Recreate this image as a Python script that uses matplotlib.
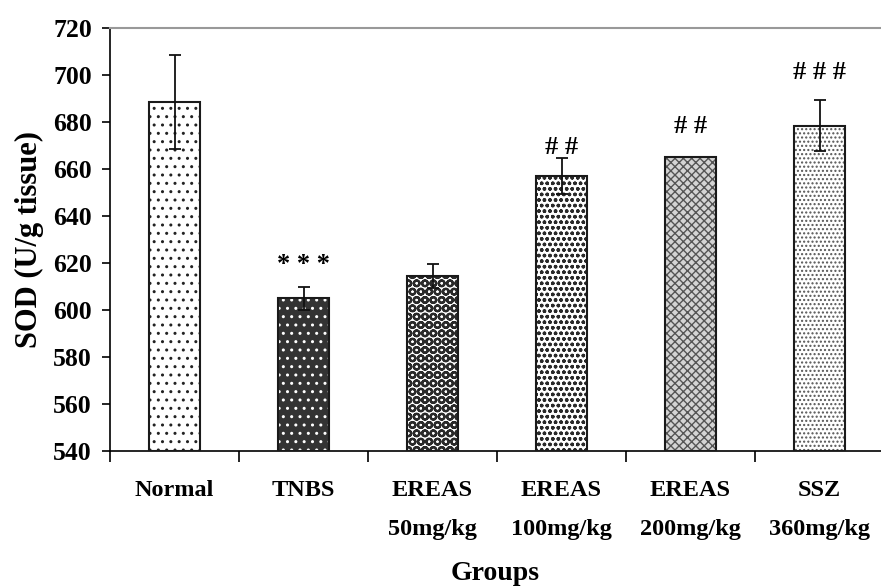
import matplotlib
matplotlib.use("Agg")
import matplotlib.pyplot as plt
import numpy as np

# ---- data ----
groups = ["Normal", "TNBS", "EREAS\n50mg/kg", "EREAS\n100mg/kg", "EREAS\n200mg/kg", "SSZ\n360mg/kg"]
sod_mean = [688.5, 605.0, 614.5, 657.0, 665.0, 678.5]
sod_err = [20.0, 5.0, 5.0, 7.5, 0.0, 11.0]
sig_marks = ["", "* * *", "", "# #", "# #", "# # #"]

# ---- style ----
plt.rcParams["font.family"] = ["Liberation Serif", "DejaVu Serif"]
plt.rcParams["font.weight"] = "bold"

faces = ["white", "#333333", "white", "white", "#d4d4d4", "white"]
hatch_colors = ["#222222", "white", "#2a2a2a", "#2a2a2a", "#555555", "#555555"]
hatches = ["..", "..", "OO", "ooo", "xxxx", "...."]
hatch_lws = [1.0, 1.0, 1.6, 1.0, 1.0, 1.0]
sig_offsets = [0, 22, 0, 11, 31, 27]  # pixels above bar/err top (centre of mark)

fig = plt.figure(figsize=(8.81, 5.88), dpi=100)
ax = fig.add_axes([110 / 881, 1 - 451 / 588, 774 / 881, 423 / 588])

x = np.arange(len(groups))
width = 0.4
heights = np.array(sod_mean) - 540
for i in range(len(groups)):
    with plt.rc_context({"hatch.linewidth": hatch_lws[i]}):
        ax.bar(x[i], heights[i], bottom=540, width=width, color=faces[i],
               edgecolor=hatch_colors[i], hatch=hatches[i], linewidth=0, zorder=2)
ax.bar(x, heights, bottom=540, width=width, fill=False,
       edgecolor="#1a1a1a", linewidth=1.5, zorder=3)

err = np.array(sod_err)
mask = err > 0
ax.errorbar(x[mask], np.array(sod_mean)[mask], yerr=err[mask], fmt="none",
            ecolor="#111111", elinewidth=1.3, capsize=4.5, capthick=1.3, zorder=4)

for i, (m, e, s) in enumerate(zip(sod_mean, sod_err, sig_marks)):
    if s:
        ax.annotate(s, xy=(i, m + e), xytext=(0, sig_offsets[i] * 72 / 100),
                    textcoords="offset points", ha="center", va="center",
                    fontsize=19, fontweight="bold", zorder=5)

ax.set_xlim(-0.5, len(groups) - 0.5)
ax.set_ylim(540, 720)
ax.set_yticks(np.arange(540, 721, 20))
ax.set_xticks(x)
ax.set_xticklabels(groups, fontsize=17.5, fontweight="bold", linespacing=2.1)
ax.set_xticks(np.arange(-0.5, len(groups), 1), minor=True)
ax.tick_params(axis="x", which="major", length=0, pad=21)
ax.tick_params(axis="x", which="minor", length=8, width=1.2, direction="out")
ax.tick_params(axis="y", length=6, width=1.2, direction="out", pad=7, labelsize=18.5)
for lab in ax.get_yticklabels():
    lab.set_fontweight("bold")

ax.spines["top"].set_color("#999999")
ax.spines["top"].set_linewidth(1.5)
ax.spines["right"].set_visible(False)
ax.spines["left"].set_linewidth(1.2)
ax.spines["bottom"].set_linewidth(1.2)

ax.set_ylabel("SOD (U/g tissue)", fontsize=22, fontweight="bold")
ax.yaxis.set_label_coords((29 - 110) / 774, 0.5)
ax.yaxis.label.set_va("center")
ax.set_xlabel("Groups", fontsize=20, fontweight="bold")
ax.xaxis.set_label_coords(0.497, (451 - 574) / 423)
ax.xaxis.label.set_va("center")

fig.savefig("out.png", dpi=100)
